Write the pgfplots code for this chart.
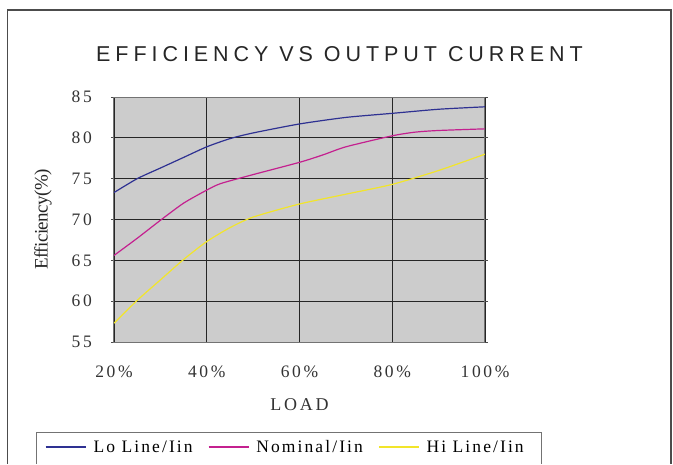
\documentclass[border=0pt]{standalone}
\usepackage{fontspec}
\usepackage{pgfplots}
\pgfplotsset{compat=1.18}
\setmainfont{Liberation Serif}
\newfontfamily\titlefamily[LetterSpace=23]{Liberation Sans}
\newfontfamily\tickfamily[LetterSpace=15]{Liberation Serif}
\newfontfamily\legfamily[LetterSpace=12]{Liberation Serif}
\newfontfamily\ylabfamily[LetterSpace=-3]{Liberation Serif}
\definecolor{loblue}{HTML}{2E3192}
\definecolor{nommag}{HTML}{C4208F}
\definecolor{hiyel}{HTML}{F2E52A}
\definecolor{plotbg}{HTML}{CCCCCC}
\begin{document}
\begin{tikzpicture}[x=1pt,y=1pt]
\useasboundingbox (0,0) rectangle (673,464);
\clip (0,0) rectangle (673,464);
\draw[black!70, line width=1.5pt] (7.7,-20) -- (7.7,454) -- (671,454) -- (671,-20);
\node[font=\fontsize{21.5}{24}\selectfont\titlefamily, text=black!85, inner sep=0pt] at (339.5,409.5) {EFFICIENCY VS OUTPUT CURRENT};
\begin{axis}[
  at={(114pt,122pt)}, anchor=south west,
  scale only axis, width=371pt, height=245pt,
  xmin=20, xmax=100, ymin=55, ymax=85,
  axis background/.style={fill=plotbg},
  axis line style={draw=black!55, line width=1pt},
  xtick={20,40,60,80,100},
  xticklabels={20\%,40\%,60\%,80\%,100\%},
  ytick={55,60,65,70,75,80,85},
  yticklabels={55,60,65,70,75,80,85},
  ticklabel style={font=\fontsize{17.5}{20}\selectfont\tickfamily, text=black!80, inner sep=0pt},
  xticklabel style={anchor=north, yshift=-21pt},
  yticklabel style={anchor=east, xshift=-19pt},
  xtick style={draw=none},
  ytick style={draw=black!70, line width=0.8pt},
  major tick length=3pt, tick align=outside,
  grid=major,
  major grid style={draw=black!85, line width=0.9pt},
  xlabel={LOAD},
  xlabel style={font=\fontsize{18}{20}\selectfont\tickfamily, text=black!80, at={(axis description cs:0.5,-0.257)}, anchor=center, inner sep=0pt},
  ylabel={Efficiency(\%)},
  ylabel style={font=\fontsize{19}{21}\selectfont\ylabfamily, text=black!85, at={(axis description cs:-0.1914,0.5)}, anchor=center, inner sep=0pt},
  legend columns=3,
  legend cell align=left,
  legend image code/.code={\draw[#1, line width=1.7pt] (0pt,0pt) -- (40pt,0pt);},
  legend style={at={(axis description cs:-0.2084,-0.3686)}, anchor=north west,
    draw=none, fill=none,
    font=\fontsize{17.5}{20}\selectfont\legfamily,
    inner xsep=8pt, inner ysep=6pt,
    /tikz/every odd column/.append style={column sep=5pt},
    /tikz/every even column/.append style={column sep=13pt}},
]
\addplot[color=loblue, line width=1.2pt, smooth, tension=0.4] coordinates {
(20,73.3) (25,75.0) (30,76.3) (35,77.6) (40,78.9) (45,79.9) (50,80.6) (60,81.7) (70,82.5) (80,83.0) (90,83.5) (100,83.8)};
\addlegendentry{Lo Line/Iin}
\addplot[color=nommag, line width=1.2pt, smooth, tension=0.4] coordinates {
(20,65.6) (25,67.7) (30,69.9) (35,72.0) (40,73.6) (43,74.4) (50,75.5) (60,77.0) (65,77.9) (70,78.9) (80,80.25) (85,80.7) (90,80.9) (100,81.1)};
\addlegendentry{Nominal/Iin}
\addplot[color=hiyel, line width=1.2pt, smooth, tension=0.4] coordinates {
(20,57.3) (25,60.1) (30,62.6) (35,65.1) (40,67.3) (45,69.0) (50,70.3) (60,71.9) (70,73.1) (80,74.3) (90,76.0) (100,78.0)};
\addlegendentry{Hi Line/Iin}
\end{axis}
\draw[black!55, line width=0.9pt] (36.7,-20) -- (36.7,31.7) -- (541.7,31.7) -- (541.7,-20);
\end{tikzpicture}
\end{document}
